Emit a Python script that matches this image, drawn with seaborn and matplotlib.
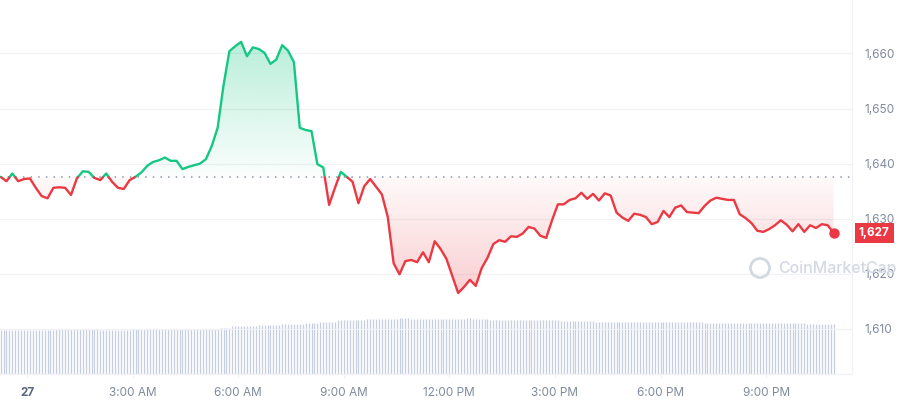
import numpy as np
import pandas as pd
import seaborn as sns
import matplotlib.pyplot as plt
from matplotlib.colors import to_rgb
from matplotlib.path import Path
from matplotlib.patches import Ellipse
from matplotlib.transforms import blended_transform_factory

# 10-minute prices from 23:15 on the 26th (hours are relative to midnight of the 27th)
start_hour = -0.75
price_step_min = 10
prices = [
    1637.6, 1636.8, 1638.2, 1636.8, 1637.2, 1637.3, 1635.6, 1634.1, 1633.7, 1635.6,
    1635.7, 1635.6, 1634.3, 1637.3, 1638.6, 1638.5, 1637.4, 1637.0, 1638.2, 1636.7,
    1635.6, 1635.4, 1637.0, 1637.6, 1638.4, 1639.6, 1640.3, 1640.6, 1641.1, 1640.5,
    1640.5, 1639.0, 1639.4, 1639.7, 1640.0, 1640.8, 1643.2, 1646.5, 1654.2, 1660.4,
    1661.3, 1662.1, 1659.5, 1661.1, 1660.8, 1660.1, 1658.1, 1658.9, 1661.5, 1660.5,
    1658.4, 1646.5, 1646.1, 1645.9, 1639.9, 1639.3, 1632.5, 1635.6, 1638.5, 1637.6,
    1636.7, 1632.8, 1635.9, 1637.2, 1635.8, 1634.4, 1630.3, 1621.9, 1619.9, 1622.3,
    1622.5, 1622.1, 1623.9, 1622.1, 1625.9, 1624.5, 1622.7, 1619.6, 1616.5, 1617.6,
    1618.9, 1617.8, 1621.0, 1622.9, 1625.4, 1626.1, 1625.8, 1626.8, 1626.7, 1627.3,
    1628.5, 1628.2, 1626.9, 1626.5, 1629.7, 1632.6, 1632.6, 1633.4, 1633.7, 1634.7,
    1633.6, 1634.5, 1633.3, 1634.6, 1634.2, 1631.1, 1630.2, 1629.6, 1630.9, 1630.7,
    1630.3, 1629.0, 1629.4, 1631.4, 1630.3, 1632.0, 1632.4, 1631.2, 1631.1, 1631.0,
    1632.3, 1633.3, 1633.8, 1633.6, 1633.4, 1633.4, 1630.8, 1630.1, 1629.2, 1627.8,
    1627.6, 1628.1, 1628.8, 1629.7, 1628.9, 1627.7, 1629.0, 1627.6, 1628.8, 1628.3,
    1629.0, 1628.8, 1627.4,
]
open_price = 1637.5

# 24h volume (billions), 5-minute bars, stored as runs of equal value
vol_step_min = 5
vol_levels = [8.74, 8.94, 8.74, 8.94, 9.16, 9.58, 9.78, 10.0, 10.2, 10.48, 10.76,
              11.04, 11.24, 11.04, 11.24, 11.04, 10.82, 10.62, 10.4, 10.2, 10.0]
vol_counts = [19, 15, 11, 30, 4, 9, 8, 8, 5, 6, 10, 11, 4, 19, 2, 6, 24, 12, 37, 35, 10]

y_ticks = [1610, 1620, 1630, 1640, 1650, 1660]
x_ticks = [0, 3, 6, 9, 12, 15, 18, 21]
x_labels = ["27", "3:00 AM", "6:00 AM", "9:00 AM", "12:00 PM", "3:00 PM", "6:00 PM", "9:00 PM"]

GREEN = "#16c784"
RED = "#ea3943"
GRID = "#f0f2f5"
TEXT = "#808a9d"

sns.set_theme(style="white")
plt.rcParams["font.family"] = ["Inter", "DejaVu Sans"]

t = start_hour + np.arange(len(prices)) * price_step_min / 60
p = np.array(prices)

# insert crossing points with the open price so colours switch cleanly
xs, ys = [t[0]], [p[0]]
for i in range(1, len(p)):
    a, b = p[i - 1] - open_price, p[i] - open_price
    if a * b < 0:
        f = a / (a - b)
        xs.append(t[i - 1] + f * (t[i] - t[i - 1]))
        ys.append(open_price)
    xs.append(t[i])
    ys.append(p[i])
xs, ys = np.array(xs), np.array(ys)

rows = []
run, prev = 0, None
for i in range(len(xs) - 1):
    side = "up" if (ys[i] + ys[i + 1]) / 2 >= open_price else "down"
    if side != prev:
        run += 1
        rows.append((xs[i], ys[i], side, run))
        prev = side
    rows.append((xs[i + 1], ys[i + 1], side, run))
df = pd.DataFrame(rows, columns=["t", "price", "side", "run"])

fig = plt.figure(figsize=(8.98, 4.0), dpi=100)
ax = fig.add_axes([0.0, 0.065, 0.9488, 0.935])
ax2 = ax.twinx()
ax.set_zorder(ax2.get_zorder() + 1)
ax.patch.set_visible(False)

# volume bars
vol = np.repeat(vol_levels, vol_counts)
tv = start_hour + np.arange(len(vol)) * vol_step_min / 60
ax2.vlines(tv, 0, vol, color="#c6cee0", lw=0.9)
ax2.set_ylim(0, 74.8)
ax2.set_yticks([])
for s in ax2.spines.values():
    s.set_visible(False)


def gradient_fill(lo, hi, alpha_lo, alpha_hi, color, clip_y):
    poly = ax.fill_between(xs, clip_y, open_price, facecolor="none", edgecolor="none")
    path = Path.make_compound_path(*poly.get_paths())
    img = np.zeros((256, 1, 4))
    img[..., :3] = to_rgb(color)
    img[:, 0, 3] = np.linspace(alpha_lo, alpha_hi, 256)
    im = ax.imshow(img, origin="lower", aspect="auto", interpolation="bilinear",
                   extent=[xs[0], xs[-1], lo, hi], zorder=1)
    im.set_clip_path(path, ax.transData)


gradient_fill(open_price, p.max(), 0.02, 0.3, GREEN, np.maximum(ys, open_price))
gradient_fill(p.min(), open_price, 0.24, 0.03, RED, np.minimum(ys, open_price))

ax.axhline(open_price, color="#8f96a8", lw=1.1, ls=(0, (1, 4)), zorder=2)

sns.lineplot(data=df, x="t", y="price", hue="side", units="run", estimator=None,
             sort=False, palette={"up": GREEN, "down": RED}, legend=False,
             lw=1.7, ax=ax, zorder=3)
ax.plot(t[-1], p[-1], "o", color=RED, ms=6.5, zorder=4)

ax.set_xlim(-0.767, 23.44)
ax.set_ylim(1601.8, 1669.7)
ax.set_xlabel("")
ax.set_ylabel("")

ax.yaxis.tick_right()
ax.set_yticks(y_ticks)
ax.set_yticklabels([f"{v:,}" for v in y_ticks])
ax.set_xticks(x_ticks)
ax.set_xticklabels(x_labels)
ax.tick_params(axis="y", length=0, pad=9, labelsize=8.5, labelcolor=TEXT)
ax.tick_params(axis="x", length=3, width=0.8, color=GRID, pad=6, labelsize=8.5,
               labelcolor=TEXT, bottom=True)
lab0 = ax.get_xticklabels()[0]
lab0.set_fontweight("bold")
lab0.set_color("#58667e")

ax.grid(axis="y", color=GRID, lw=0.9)
ax.grid(axis="x", visible=False)
for name, s in ax.spines.items():
    s.set_visible(name in ("right", "bottom"))
    s.set_color(GRID)
    s.set_linewidth(0.9)

# last price tag
ax.annotate(f"{round(p[-1]):,}", xy=(1, p[-1]),
            xycoords=blended_transform_factory(ax.transAxes, ax.transData),
            xytext=(5, 0), textcoords="offset points", va="center", ha="left",
            fontsize=8.5, fontweight="bold", color="white",
            bbox=dict(boxstyle="square,pad=0.35", fc=RED, ec="none"))

# watermark
wm = "#d3d9e3"
fig.text(778 / 898, 1 - 268 / 400, "CoinMarketCap", color=wm, fontsize=11.5,
         fontweight="medium", va="center", ha="left", zorder=10)
fig.add_artist(Ellipse((760 / 898, 1 - 268 / 400), 19 / 898, 19 / 400,
                       transform=fig.transFigure, fill=False, ec=wm, lw=2, zorder=10))

plt.savefig("out.png", dpi=100)
